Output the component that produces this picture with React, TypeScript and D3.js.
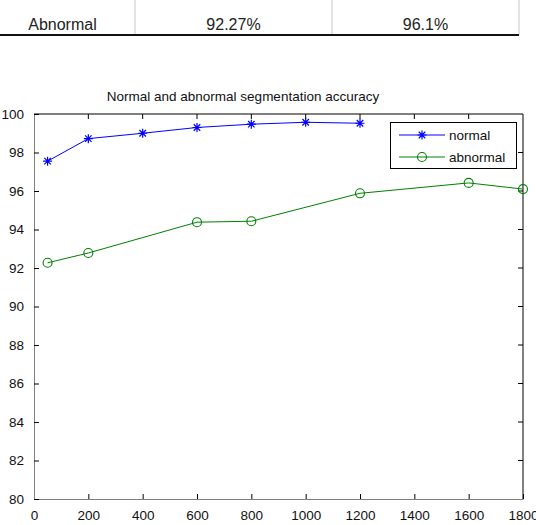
import * as d3 from "d3";
import React, { useEffect, useRef } from "react";

// sample counts along the x axis
const normalX = [50, 200, 400, 600, 800, 1000, 1200];
const normalAcc = [97.55, 98.72, 99.0, 99.3, 99.47, 99.57, 99.52];
const abnormalX = [50, 200, 600, 800, 1200, 1600, 1800];
const abnormalAcc = [92.27, 92.78, 94.38, 94.43, 95.88, 96.42, 96.1];

const xTicks = [0, 200, 400, 600, 800, 1000, 1200, 1400, 1600, 1800];
const yTicks = [80, 82, 84, 86, 88, 90, 92, 94, 96, 98, 100];

// last row of the summary table above the plot
const tableRow = ["Abnormal", "92.27%", "96.1%"];

const W = 536;
const H = 525;

const App = () => {
  const ref = useRef<SVGSVGElement | null>(null);

  useEffect(() => {
    const svg = d3.select(ref.current);
    svg.selectAll("*").remove();

    const font = "'Liberation Sans', Arial, sans-serif";

    // table fragment
    const cellEdges = [0, 135, 332, 519];
    const t = svg.append("g");
    [135, 332, 519].forEach((x) =>
      t.append("line").attr("x1", x).attr("x2", x).attr("y1", 0).attr("y2", 35)
        .attr("stroke", "#c8c8c8").attr("stroke-width", 1)
    );
    t.append("line").attr("x1", 0).attr("x2", 519).attr("y1", 35).attr("y2", 35)
      .attr("stroke", "#111").attr("stroke-width", 2);
    tableRow.forEach((txt, i) =>
      t.append("text")
        .attr("x", (cellEdges[i] + cellEdges[i + 1]) / 2 - (i === 0 ? 5 : 0))
        .attr("y", 30)
        .attr("text-anchor", "middle")
        .attr("font-family", font)
        .attr("font-size", 16)
        .attr("fill", "#222")
        .text(txt)
    );

    const margin = { left: 34, right: 523, top: 114, bottom: 499 };
    const x = d3.scaleLinear().domain([0, 1800]).range([margin.left, margin.right]);
    const y = d3.scaleLinear().domain([80, 100]).range([margin.bottom, margin.top]);

    const g = svg.append("g");

    // box edges
    g.append("line").attr("x1", margin.left).attr("x2", margin.right).attr("y1", margin.top).attr("y2", margin.top).attr("stroke", "#000");
    g.append("line").attr("x1", margin.right).attr("x2", margin.right).attr("y1", margin.top).attr("y2", margin.bottom).attr("stroke", "#000");

    const tickLen = 5;
    const fmt = d3.format("d");
    const xAxis = g.append("g").attr("transform", `translate(0,${margin.bottom})`)
      .call(d3.axisBottom(x).tickValues(xTicks).tickFormat(fmt).tickSizeInner(-tickLen).tickSizeOuter(0).tickPadding(tickLen + 6));
    const yAxis = g.append("g").attr("transform", `translate(${margin.left},0)`)
      .call(d3.axisLeft(y).tickValues(yTicks).tickFormat(fmt).tickSizeInner(-tickLen).tickSizeOuter(0).tickPadding(tickLen + 5));
    [xAxis, yAxis].forEach((a) => {
      a.select(".domain").attr("stroke", "#808080");
      a.selectAll(".tick line").attr("stroke", "#000");
      a.selectAll(".tick text").attr("font-family", font).attr("font-size", 13.5).attr("fill", "#111");
    });

    // mirrored ticks on top and right edges
    g.append("g").selectAll("line").data(xTicks.slice(1, -1)).enter().append("line")
      .attr("x1", (d) => x(d)).attr("x2", (d) => x(d))
      .attr("y1", margin.top).attr("y2", margin.top + tickLen).attr("stroke", "#000");
    g.append("g").selectAll("line").data(yTicks.slice(1, -1)).enter().append("line")
      .attr("x1", margin.right - tickLen).attr("x2", margin.right)
      .attr("y1", (d) => y(d)).attr("y2", (d) => y(d)).attr("stroke", "#000");

    g.append("text")
      .attr("x", 243).attr("y", 101)
      .attr("text-anchor", "middle")
      .attr("font-family", font)
      .attr("font-size", 13.5)
      .attr("fill", "#111")
      .text("Normal and abnormal segmentation accuracy");

    const line = d3.line<[number, number]>().x((d) => x(d[0])).y((d) => y(d[1]));
    const normal: [number, number][] = normalX.map((v, i) => [v, normalAcc[i]]);
    const abnormal: [number, number][] = abnormalX.map((v, i) => [v, abnormalAcc[i]]);

    const blue = "#0000ff";
    const green = "#008000";

    const star = (sel: any, cx: number, cy: number, color: string) => {
      const s = 4.5;
      const p = `M${cx - s},${cy}H${cx + s}M${cx},${cy - s}V${cy + s}` +
        `M${cx - s * 0.72},${cy - s * 0.72}L${cx + s * 0.72},${cy + s * 0.72}` +
        `M${cx - s * 0.72},${cy + s * 0.72}L${cx + s * 0.72},${cy - s * 0.72}`;
      sel.append("path").attr("d", p).attr("stroke", color).attr("stroke-width", 1.2).attr("fill", "none");
    };
    const ring = (sel: any, cx: number, cy: number, color: string) => {
      sel.append("circle").attr("cx", cx).attr("cy", cy).attr("r", 4.5)
        .attr("stroke", color).attr("stroke-width", 1.1).attr("fill", "none");
    };

    g.append("path").attr("d", line(abnormal)).attr("stroke", green).attr("stroke-width", 1).attr("fill", "none");
    abnormal.forEach((d) => ring(g, x(d[0]), y(d[1]), green));
    g.append("path").attr("d", line(normal)).attr("stroke", blue).attr("stroke-width", 1).attr("fill", "none");
    normal.forEach((d) => star(g, x(d[0]), y(d[1]), blue));

    // legend
    const lg = g.append("g");
    lg.append("rect").attr("x", 390.5).attr("y", 122.5).attr("width", 126).attr("height", 46)
      .attr("fill", "#fff").attr("stroke", "#000");
    const entries = [
      { label: "normal", color: blue, cy: 135, mark: star },
      { label: "abnormal", color: green, cy: 157, mark: ring },
    ];
    entries.forEach((e) => {
      lg.append("line").attr("x1", 399).attr("x2", 445).attr("y1", e.cy).attr("y2", e.cy)
        .attr("stroke", e.color).attr("stroke-width", 1);
      e.mark(lg, 422, e.cy, e.color);
      lg.append("text").attr("x", 449).attr("y", e.cy + 4.5)
        .attr("font-family", font).attr("font-size", 13.5).attr("fill", "#111").text(e.label);
    });
  }, []);

  return (
    <svg
      ref={ref}
      width={W}
      height={H}
      style={{ position: "absolute", left: 0, top: 0, background: "#fff" }}
    />
  );
};

export default App;
